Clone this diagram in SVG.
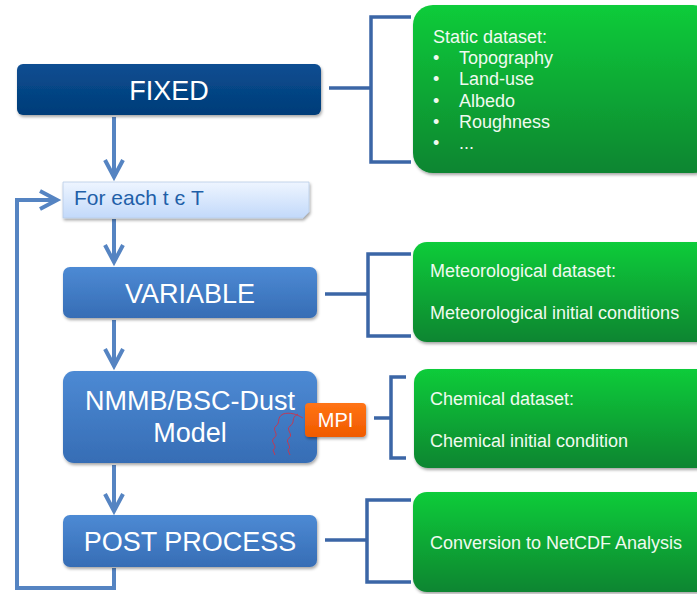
<svg xmlns="http://www.w3.org/2000/svg" width="697" height="594" viewBox="0 0 697 594">
<defs>
<linearGradient id="gNavy" x1="0" y1="0" x2="0" y2="1"><stop offset="0" stop-color="#0c4e92"/><stop offset="1" stop-color="#003c78"/></linearGradient>
<linearGradient id="gBlue" x1="0" y1="0" x2="0" y2="1"><stop offset="0" stop-color="#4d8ad4"/><stop offset="1" stop-color="#366db5"/></linearGradient>
<linearGradient id="gGreen" x1="0" y1="0" x2="0" y2="1"><stop offset="0" stop-color="#0ccc3a"/><stop offset="1" stop-color="#0a8530"/></linearGradient>
<linearGradient id="gLight" x1="0" y1="0" x2="0" y2="1"><stop offset="0" stop-color="#eef5ff"/><stop offset="1" stop-color="#c2d9fa"/></linearGradient>
<linearGradient id="gOrange" x1="0" y1="0" x2="0" y2="1"><stop offset="0" stop-color="#ff7414"/><stop offset="1" stop-color="#f05a00"/></linearGradient>
<filter id="sh" x="-10%" y="-10%" width="120%" height="130%"><feDropShadow dx="1" dy="2" stdDeviation="1.5" flood-color="#000" flood-opacity="0.35"/></filter>
</defs>
<style>
.lbl{font-family:"Liberation Sans",Arial,sans-serif;fill:#fff}
.big{font-size:27px;text-anchor:middle}
.sm{font-size:18px;fill:#f0faf0}
.br{fill:none;stroke:#3b66a6;stroke-width:3.5}
.ar{fill:none;stroke:#5584c2;stroke-width:4}
.sq{fill:none;stroke:#c03a55;stroke-width:1}
</style>
<g id="connectors">
<polyline class="ar" points="114,117 114,177"/>
<polyline class="ar" points="105,160 114,177 123,160"/>
<polyline class="ar" points="114,219 114,262"/>
<polyline class="ar" points="105,245 114,262 123,245"/>
<polyline class="ar" points="114,320 114,366"/>
<polyline class="ar" points="105,349 114,366 123,349"/>
<polyline class="ar" points="114,465 114,511"/>
<polyline class="ar" points="105,494 114,511 123,494"/>
<polyline class="ar" points="114,568 114,588 17,588 17,200 56,200"/>
<polyline class="ar" points="40,191 57,200 40,209"/>
<line class="br" x1="329" y1="88" x2="371" y2="88"/>
<polyline class="br" points="411,17 371,17 371,162 411,162"/>
<line class="br" x1="325" y1="294" x2="368" y2="294"/>
<polyline class="br" points="411,254 368,254 368,336 411,336"/>
<line class="br" x1="374" y1="418" x2="391" y2="418"/>
<polyline class="br" points="406,377 391,377 391,458 406,458"/>
<line class="br" x1="325" y1="540" x2="367" y2="540"/>
<polyline class="br" points="411,500 367,500 367,582 411,582"/>
</g>
<g id="fixed">
<rect x="17" y="64" width="304" height="51" rx="6" fill="url(#gNavy)" filter="url(#sh)"/>
<text class="lbl big" x="169" y="100">FIXED</text>
</g>
<g id="foreach">
<path d="M63,182 H309 V212 L303,218 H63 Z" fill="url(#gLight)" stroke="#b8cce6" stroke-width="0.8" filter="url(#sh)"/>
<text x="74" y="205" font-family="Liberation Sans,Arial,sans-serif" font-size="21" fill="#1f5fa8">For each t є T</text>
</g>
<g id="variable">
<rect x="63" y="267" width="254" height="51" rx="7" fill="url(#gBlue)" filter="url(#sh)"/>
<text class="lbl big" x="190" y="303">VARIABLE</text>
</g>
<g id="model">
<rect x="63" y="371" width="254" height="92" rx="11" fill="url(#gBlue)" filter="url(#sh)"/>
<text class="lbl big" x="190" y="410">NMMB/BSC-Dust</text>
<text class="lbl big" x="190" y="442">Model</text>
<path class="sq" d="M283,414 C276,418 281,422 276,426 C271,430 280,434 274,438 C269,442 279,446 273,450 L275,455"/>
<path class="sq" d="M298,414 C290,418 296,422 290,426 C285,430 294,434 289,438 C284,442 293,446 288,450 L290,455"/>
<path class="sq" d="M283,414 C290,412 296,414 303,418"/>
</g>
<g id="mpi">
<rect x="305" y="403" width="61" height="34" rx="4" fill="url(#gOrange)" filter="url(#sh)"/>
<text class="lbl" x="335.5" y="427" font-size="20" text-anchor="middle">MPI</text>
</g>
<g id="postprocess">
<rect x="63" y="515" width="254" height="52" rx="7" fill="url(#gBlue)" filter="url(#sh)"/>
<text class="lbl big" x="190" y="551">POST PROCESS</text>
</g>
<g id="static">
<rect x="413" y="5" width="300" height="168" rx="20" fill="url(#gGreen)" filter="url(#sh)"/>
<text class="lbl sm" x="433" y="43">Static dataset:</text>
<text class="lbl sm" x="433" y="64">•</text><text class="lbl sm" x="459" y="64">Topography</text>
<text class="lbl sm" x="433" y="85">•</text><text class="lbl sm" x="459" y="85">Land-use</text>
<text class="lbl sm" x="433" y="107">•</text><text class="lbl sm" x="459" y="107">Albedo</text>
<text class="lbl sm" x="433" y="128">•</text><text class="lbl sm" x="459" y="128">Roughness</text>
<text class="lbl sm" x="433" y="149">•</text><text class="lbl sm" x="459" y="149">...</text>
</g>
<g id="meteo">
<rect x="413" y="242" width="300" height="100" rx="14" fill="url(#gGreen)" filter="url(#sh)"/>
<text class="lbl sm" x="430" y="277">Meteorological dataset:</text>
<text class="lbl sm" x="430" y="319">Meteorological initial conditions</text>
</g>
<g id="chem">
<rect x="414" y="369" width="300" height="99" rx="14" fill="url(#gGreen)" filter="url(#sh)"/>
<text class="lbl sm" x="430" y="405">Chemical dataset:</text>
<text class="lbl sm" x="430" y="447">Chemical initial condition</text>
</g>
<g id="conversion">
<rect x="413" y="492" width="300" height="100" rx="14" fill="url(#gGreen)" filter="url(#sh)"/>
<text class="lbl sm" x="430" y="549">Conversion to NetCDF Analysis</text>
</g>
</svg>
